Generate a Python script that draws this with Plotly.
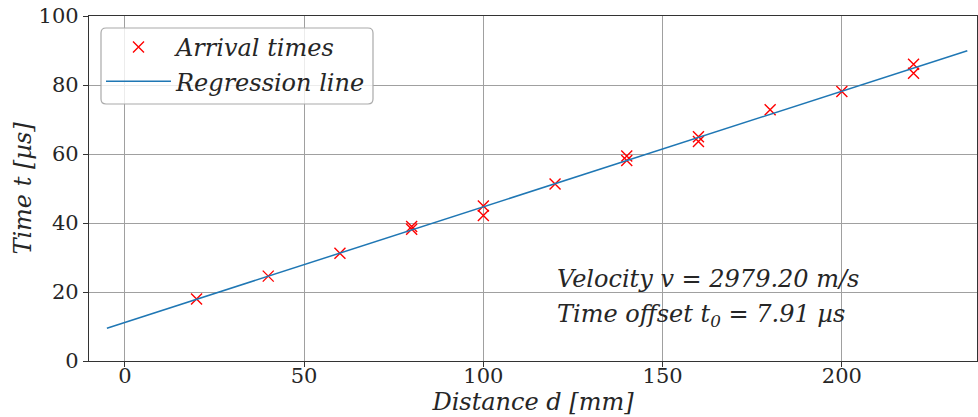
import numpy as np
import plotly.graph_objects as go

# Data
distance_mm = [20, 40, 60, 80, 80, 100, 100, 120, 140, 140, 160, 160, 180, 200, 220, 220]
time_us = [18.0, 24.6, 31.2, 38.2, 39.0, 44.9, 42.2, 51.3, 59.4, 58.1, 65.0, 63.6, 72.8, 78.1, 86.0, 83.4]
line_d_range = [-5, 235]
x_ticks = [0, 50, 100, 150, 200]
y_ticks = [0, 20, 40, 60, 80, 100]
velocity_text = "Velocity v = 2979.20 m/s"
offset_text = "Time offset t<sub>0</sub> = 7.91 µs"

slope, intercept = np.polyfit(distance_mm, time_us, 1)
line_d = np.array(line_d_range, dtype=float)
line_t = intercept + slope * line_d

FONT = "DejaVu Serif"
TXT = "#262626"
BIG = 24

fig = go.Figure()
fig.add_trace(go.Scatter(
    x=distance_mm, y=time_us, mode="markers", name="<i>Arrival times</i>",
    legendgroup="a",
    marker=dict(symbol="x-thin", size=11, line=dict(color="red", width=1.4), color="red"),
))
fig.add_trace(go.Scatter(
    x=line_d, y=line_t, mode="lines", name="<i>Regression line</i>",
    legendgroup="b",
    line=dict(color="#1f77b4", width=1.5),
))

axis_common = dict(
    showgrid=True, gridcolor="#a0a0a0", gridwidth=1.3,
    showline=True, linecolor="#333333", linewidth=1.3, mirror=True,
    ticks="outside", ticklen=5, tickwidth=1.2, tickcolor="#333333",
    tickfont=dict(family=FONT, size=21, color=TXT),
    zeroline=False,
)

fig.update_xaxes(
    range=[-10, 237.7], tickvals=x_ticks, ticklabelstandoff=-9,
    title=dict(text="<i>Distance d [mm]</i>", font=dict(family=FONT, size=BIG, color=TXT), standoff=0),
    **axis_common,
)
fig.update_yaxes(
    range=[0, 100], tickvals=y_ticks,
    title=dict(text="<i>Time t [µs]</i>", font=dict(family=FONT, size=BIG, color=TXT), standoff=0),
    **axis_common,
)

fig.add_annotation(x=120, y=23.8, xref="x", yref="y", text="<i>" + velocity_text + "</i>",
                   showarrow=False, xanchor="left", yanchor="middle",
                   font=dict(family=FONT, size=BIG, color=TXT))
fig.add_annotation(x=120, y=13.2, xref="x", yref="y", text="<i>" + offset_text + "</i>",
                   showarrow=False, xanchor="left", yanchor="middle",
                   font=dict(family=FONT, size=BIG, color=TXT))

# rounded legend frame
W, H = 978, 417
ml, mr, mt, mb = 89, 1, 16, 56
pw, ph = W - ml - mr, H - mt - mb
def px(xp):
    return (xp - ml) / pw
def py(yp):
    return 1 - (yp - mt) / ph
x0, x1, y0, y1, r = 101, 373, 28, 104, 5
path = (f"M {px(x0 + r)} {py(y0)} L {px(x1 - r)} {py(y0)} Q {px(x1)} {py(y0)} {px(x1)} {py(y0 + r)} "
        f"L {px(x1)} {py(y1 - r)} Q {px(x1)} {py(y1)} {px(x1 - r)} {py(y1)} "
        f"L {px(x0 + r)} {py(y1)} Q {px(x0)} {py(y1)} {px(x0)} {py(y1 - r)} "
        f"L {px(x0)} {py(y0 + r)} Q {px(x0)} {py(y0)} {px(x0 + r)} {py(y0)} Z")
fig.add_shape(type="path", path=path, xref="paper", yref="paper",
              line=dict(color="#aaaaaa", width=1.2), fillcolor="rgba(255,255,255,0.8)", layer="above")

fig.update_layout(
    width=W, height=H,
    margin=dict(l=ml, r=mr, t=mt, b=mb),
    paper_bgcolor="white", plot_bgcolor="white",
    showlegend=True,
    legend=dict(
        x=px(x0), y=py(y0) + 0.009, xanchor="left", yanchor="top",
        bgcolor="rgba(0,0,0,0)", borderwidth=0,
        font=dict(family=FONT, size=BIG, color=TXT),
        itemwidth=65, tracegroupgap=0,
    ),
)

fig.write_html("out.html")
